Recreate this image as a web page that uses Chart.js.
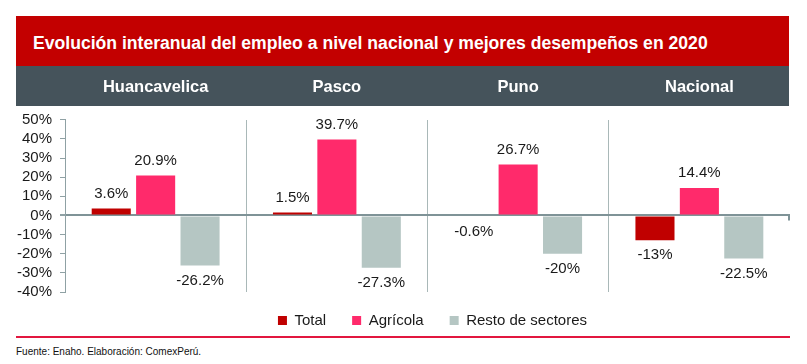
<!DOCTYPE html>
<html>
<head>
<meta charset="utf-8">
<script src="https://cdn.jsdelivr.net/npm/chart.js@4"></script>
<style>
  body { margin: 0; background: #fff; font-family: "Liberation Sans", Arial, sans-serif; }
  #wrap { position: relative; width: 807px; height: 364px; overflow: hidden; }
  #banner { position: absolute; left: 16px; top: 16px; width: 773px; height: 50px; background: #c30000; }
  #banner span { position: absolute; left: 17px; top: 17px; color: #fff; font-weight: bold; font-size: 17.6px; line-height: 20px; white-space: nowrap; }
  #band { position: absolute; left: 16px; top: 66px; width: 773px; height: 40px; background: #45535b; }
  #redline { position: absolute; left: 16px; top: 336px; width: 774px; height: 2px; background: #e2173f; }
  #fuente { position: absolute; left: 16px; top: 346px; font-size: 10px; color: #111; white-space: nowrap; }
  #box { position: absolute; left: 0; top: 0; width: 807px; height: 364px; }
</style>
</head>
<body>
<div id="wrap">
  <div id="banner"><span>Evolución interanual del empleo a nivel nacional y mejores desempeños en 2020</span></div>
  <div id="band"></div>
  <div id="redline"></div>
  <div id="fuente">Fuente: Enaho. Elaboración: ComexPerú.</div>
  <div id="box"><canvas id="chart"></canvas></div>
</div>
<script>
document.addEventListener('DOMContentLoaded', function() {
    // datos
    const regiones = ["Huancavelica", "Pasco", "Puno", "Nacional"];
    const total = [3.6, 1.5, -0.6, -13];
    const agricola = [20.9, 39.7, 26.7, 14.4];
    const resto = [-26.2, -27.3, -20, -22.5];
    const ejeY = [-40, 50, 10]; // min, max, paso

    const ejeColor = '#8fa1a4';
    const ceroColor = '#7f9397';
    const textColor = '#1a1a1a';
    const fuente = '"Liberation Sans", Arial, sans-serif';

    // etiquetas de valor encima / debajo de cada barra
    const etiquetas = {
        id: 'etiquetas',
        afterDatasetsDraw(chart) {
            const ctx = chart.ctx;
            ctx.save();
            // marca corta al final de la linea del cero
            const y0 = chart.scales.y.getPixelForValue(0);
            const xr = chart.chartArea.right;
            ctx.strokeStyle = ceroColor;
            ctx.lineWidth = 2;
            ctx.beginPath();
            ctx.moveTo(xr - 1, y0);
            ctx.lineTo(xr - 1, y0 + 5);
            ctx.stroke();

            ctx.font = '15px ' + fuente;
            ctx.fillStyle = textColor;
            ctx.textAlign = 'center';
            ctx.textBaseline = 'middle';
            chart.data.datasets.forEach(function(ds, i) {
                chart.getDatasetMeta(i).data.forEach(function(bar, j) {
                    const v = ds.data[j];
                    const y = v >= 0 ? bar.y - 15 : bar.y + 15;
                    ctx.fillText(v + '%', bar.x, y);
                });
            });
            ctx.restore();
        }
    };

    // la leyenda va algo corrida a la derecha y mas arriba en el original
    const moverLeyenda = {
        id: 'moverLeyenda',
        afterLayout(chart) {
            const lg = chart.legend;
            lg.left += 33; lg.right += 33;
            lg.top -= 5; lg.bottom -= 5;
        }
    };

    new Chart(document.getElementById('chart'), {
        type: 'bar',
        data: {
            labels: regiones,
            datasets: [
                { label: 'Total', data: total, backgroundColor: '#c00000', borderWidth: 0 },
                { label: 'Agrícola', data: agricola, backgroundColor: '#ff2a6b', borderWidth: 0 },
                { label: 'Resto de sectores', data: resto, backgroundColor: '#b5c6c3', borderWidth: 0 }
            ]
        },
        options: {
            responsive: true,
            maintainAspectRatio: false,
            animation: false,
            categoryPercentage: 0.735,
            barPercentage: 0.88,
            layout: { padding: { top: 56, right: 17, bottom: 21, left: 9 } },
            plugins: {
                legend: {
                    position: 'bottom',
                    labels: {
                        boxWidth: 9, boxHeight: 9, padding: 26,
                        color: textColor,
                        font: { family: fuente, size: 15 }
                    }
                },
                tooltip: { enabled: false }
            },
            scales: {
                x: {
                    position: 'top',
                    border: { display: false },
                    grid: {
                        offset: true,
                        drawTicks: false,
                        color: function(c) { return (c.index > 0 && c.index < regiones.length) ? '#a9b8b8' : 'transparent'; }
                    },
                    ticks: {
                        color: '#ffffff',
                        padding: 22,
                        font: { family: fuente, size: 16.5, weight: 'bold' }
                    }
                },
                y: {
                    min: ejeY[0], max: ejeY[1],
                    border: { display: true, color: ejeColor, width: 1 },
                    grid: {
                        tickLength: 5,
                        tickColor: ejeColor,
                        lineWidth: function(c) { return c.tick && c.tick.value === 0 ? 2 : 1; },
                        color: function(c) { return c.tick && c.tick.value === 0 ? ceroColor : 'transparent'; }
                    },
                    ticks: {
                        stepSize: ejeY[2],
                        autoSkip: false,
                        padding: 8,
                        color: textColor,
                        font: { family: fuente, size: 15 },
                        callback: function(v) { return v + '%'; }
                    }
                }
            }
        },
        plugins: [etiquetas, moverLeyenda]
    });
});
</script>
</body>
</html>
